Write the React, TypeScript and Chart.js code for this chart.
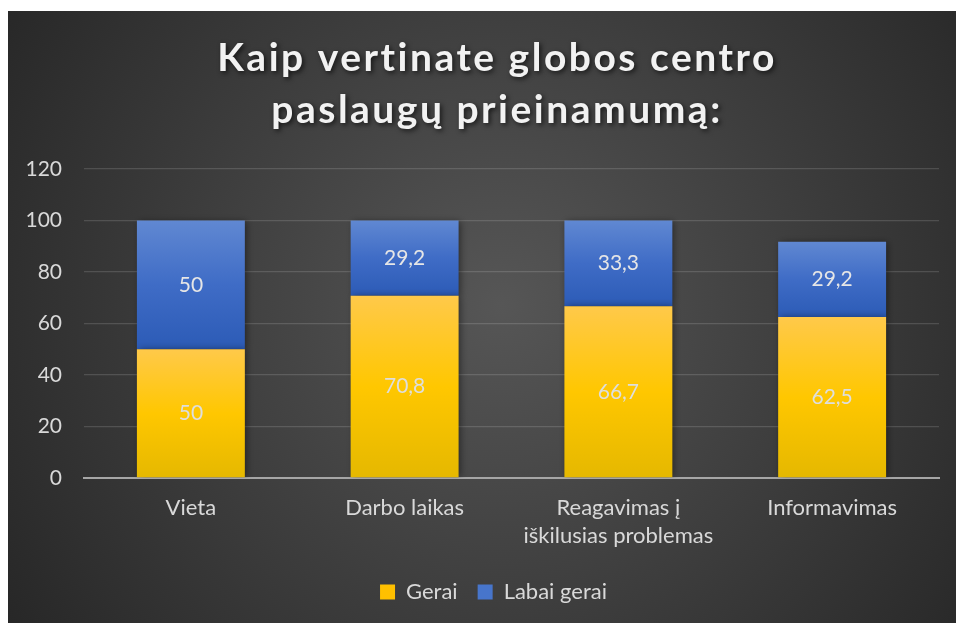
import React, { useEffect, useRef } from 'react';
import { Chart, registerables } from 'chart.js';

Chart.register(...registerables);

const TITLE_LINES = ['Kaip vertinate globos centro', 'paslaugų prieinamumą:'];
const CATEGORIES = [['Vieta'], ['Darbo laikas'], ['Reagavimas į', 'iškilusias problemas'], ['Informavimas']];
const SERIES_NAMES = ['Gerai', 'Labai gerai'];
const GERAI = [50, 70.8, 66.7, 62.5];
const LABAI_GERAI = [50, 29.2, 33.3, 29.2];
const Y_MIN = 0;
const Y_MAX = 120;
const Y_STEP = 20;

const FONT = 'Lato, "Open Sans", sans-serif';
const TEXT = '#d9d9d9';

const YELLOW_STOPS: [number, string][] = [[0, '#ffc94a'], [0.5, '#ffc700'], [1, '#e5b800']];
const BLUE_STOPS: [number, string][] = [[0, '#6088d2'], [0.5, '#3f6cc6'], [1, '#2c5bb6']];

function makeFill(stops: [number, string][]) {
  return (c: any) => {
    const chart = c.chart;
    const y = chart.scales && chart.scales.y;
    if (!y || c.type !== 'data' || !chart.chartArea) return stops[1][1];
    const dsIdx = c.datasetIndex;
    const i = c.dataIndex;
    const all = chart.data.datasets;
    let base = 0;
    for (let d = 0; d < dsIdx; d++) base += all[d].data[i];
    const top = base + all[dsIdx].data[i];
    const y0 = y.getPixelForValue(top);
    const y1 = y.getPixelForValue(base);
    if (!isFinite(y0) || !isFinite(y1) || y0 === y1) return stops[1][1];
    const g = chart.ctx.createLinearGradient(0, y0, 0, y1);
    stops.forEach(([o, col]) => g.addColorStop(o, col));
    return g;
  };
}

const fmt = (v: number) => String(v).replace('.', ',');

const bgPlugin = {
  id: 'bgPlugin',
  beforeDraw(chart: any) {
    const { ctx, width, height } = chart;
    ctx.save();
    const g = ctx.createRadialGradient(width * 0.52, height * 0.48, 0, width * 0.52, height * 0.48, Math.max(width, height) * 0.62);
    g.addColorStop(0, '#565656');
    g.addColorStop(1, '#272727');
    ctx.fillStyle = g;
    ctx.fillRect(0, 0, width, height);
    ctx.restore();
  },
};

const legendShiftPlugin = {
  id: 'legendShift',
  afterLayout(chart: any) {
    const lg = chart.legend;
    if (lg) {
      lg.left += 20;
      lg.right += 20;
    }
  },
};

const titlePlugin = {
  id: 'titlePlugin',
  afterDraw(chart: any) {
    const { ctx } = chart;
    ctx.save();
    ctx.font = `bold 39px ${FONT}`;
    ctx.fillStyle = '#f2f2f2';
    ctx.textAlign = 'center';
    ctx.textBaseline = 'alphabetic';
    ctx.shadowColor = 'rgba(0,0,0,0.65)';
    ctx.shadowBlur = 5;
    ctx.shadowOffsetX = 2;
    ctx.shadowOffsetY = 2;
    (ctx as any).letterSpacing = '2.5px';
    const cx = 489;
    ctx.fillText(TITLE_LINES[0], cx, 60);
    ctx.fillText(TITLE_LINES[1], cx, 112);
    ctx.restore();
  },
};

const shadowPlugin = {
  id: 'shadowPlugin',
  beforeDatasetsDraw(chart: any) {
    const ctx = chart.ctx;
    ctx.save();
    ctx.shadowColor = 'rgba(0,0,0,0.45)';
    ctx.shadowBlur = 7;
    ctx.shadowOffsetX = 2;
    ctx.shadowOffsetY = 0;
  },
  afterDatasetsDraw(chart: any) {
    const ctx = chart.ctx;
    ctx.restore();
    ctx.save();
    ctx.font = `21px ${FONT}`;
    ctx.textAlign = 'center';
    ctx.textBaseline = 'middle';
    chart.data.datasets.forEach((ds: any, di: number) => {
      const meta = chart.getDatasetMeta(di);
      meta.data.forEach((bar: any, i: number) => {
        const p = bar.getProps(['x', 'y', 'base'], true);
        ctx.fillStyle = di === 0 ? '#dedede' : '#e6e6e6';
        ctx.fillText(fmt(ds.data[i]), p.x, (p.y + p.base) / 2);
      });
    });
    ctx.restore();
  },
};

export default function App() {
  const ref = useRef<HTMLCanvasElement | null>(null);

  useEffect(() => {
    if (!ref.current) return;
    const chart = new Chart(ref.current, {
      type: 'bar',
      data: {
        labels: CATEGORIES as any,
        datasets: [
          {
            label: SERIES_NAMES[0],
            data: GERAI,
            backgroundColor: makeFill(YELLOW_STOPS) as any,
            borderWidth: 0,
            barPercentage: 0.505,
            categoryPercentage: 1,
          },
          {
            label: SERIES_NAMES[1],
            data: LABAI_GERAI,
            backgroundColor: makeFill(BLUE_STOPS) as any,
            borderWidth: 0,
            barPercentage: 0.505,
            categoryPercentage: 1,
          },
        ],
      },
      options: {
        animation: false,
        responsive: true,
        maintainAspectRatio: false,
        layout: { padding: { top: 158, left: 0, right: 17, bottom: 10 } },
        plugins: {
          title: { display: false },
          tooltip: { enabled: false },
          legend: {
            position: 'bottom',
            labels: {
              color: TEXT,
              font: { family: FONT, size: 22 },
              boxWidth: 15,
              boxHeight: 15,
              padding: 20,
              generateLabels: () => [
                { text: SERIES_NAMES[0], fillStyle: '#ffc000', strokeStyle: '#ffc000', lineWidth: 0, fontColor: TEXT, datasetIndex: 0 },
                { text: SERIES_NAMES[1], fillStyle: '#4775cb', strokeStyle: '#4775cb', lineWidth: 0, fontColor: TEXT, datasetIndex: 1 },
              ] as any,
            },
          },
        },
        scales: {
          x: {
            stacked: true,
            grid: { display: false, drawTicks: false },
            border: { display: true, color: '#a6a6a6', width: 2 },
            ticks: {
              color: TEXT,
              font: { family: FONT, size: 22, lineHeight: 1.27 },
              padding: 16,
              maxRotation: 0,
              autoSkip: false,
            },
            afterFit: (s: any) => { s.height = 83; },
          },
          y: {
            stacked: true,
            min: Y_MIN,
            max: Y_MAX,
            grid: {
              color: (c: any) => (c.tick && c.tick.value === 0 ? 'rgba(0,0,0,0)' : 'rgba(255,255,255,0.14)'),
              lineWidth: 1.3,
              drawTicks: false,
            },
            border: { display: false },
            ticks: {
              stepSize: Y_STEP,
              color: TEXT,
              font: { family: FONT, size: 21 },
              padding: 22,
            },
            afterFit: (s: any) => { s.width = 76; },
          },
        },
      },
      plugins: [bgPlugin, legendShiftPlugin, shadowPlugin, titlePlugin],
    });
    return () => chart.destroy();
  }, []);

  return (
    <div style={{ position: 'fixed', left: 8, top: 11, width: 948, height: 612 }}>
      <canvas ref={ref} />
    </div>
  );
}
